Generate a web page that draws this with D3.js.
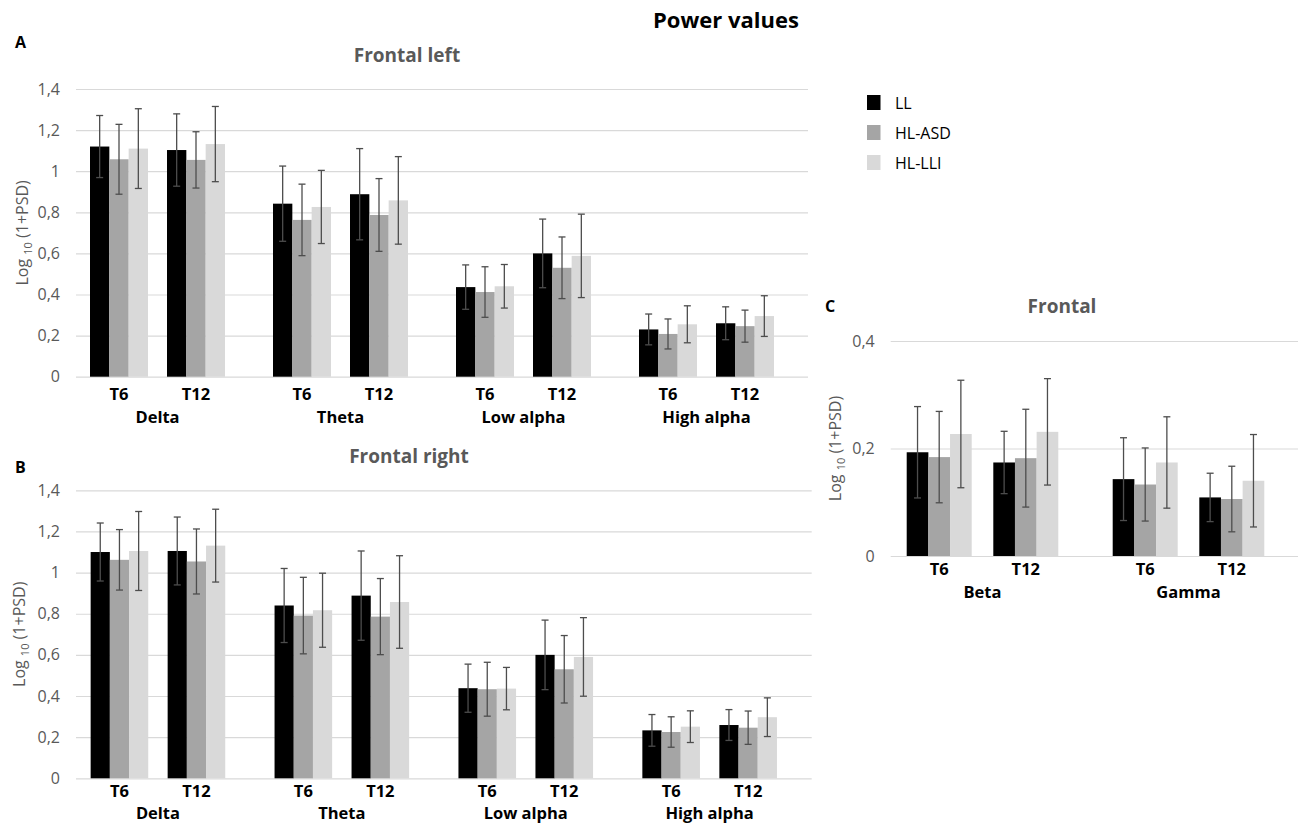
<!DOCTYPE html>
<html>
<head>
<meta charset="utf-8">
<script src="https://cdn.jsdelivr.net/npm/d3@7"></script>
<style>
  body { margin: 0; background: #fff; }
  svg { display: block; font-family: "Open Sans", sans-serif; }
</style>
</head>
<body>
<svg id="chart" width="1298" height="824"></svg>
<script>
// groups, time points, frequency bands
var groups = ['LL', 'HL-ASD', 'HL-LLI'];
var groupColors = ['#000000', '#a5a5a5', '#d9d9d9'];
var timepoints = ['T6', 'T12'];
var bandsLR = ['Delta', 'Theta', 'Low alpha', 'High alpha'];
var bandsC = ['Beta', 'Gamma'];
var yTicksLR = [0, 0.2, 0.4, 0.6, 0.8, 1, 1.2, 1.4];
var yTicksC = [0, 0.2, 0.4];

// rows: band x timepoint (T6, T12), cols: LL, HL-ASD, HL-LLI
var leftMean = [
    [1.12, 1.058, 1.11], [1.103, 1.055, 1.132],
    [0.842, 0.763, 0.826], [0.888, 0.787, 0.858],
    [0.436, 0.412, 0.44], [0.6, 0.53, 0.588],
    [0.23, 0.208, 0.255], [0.26, 0.246, 0.295]
];
var leftErr = [
    [0.151, 0.17, 0.194], [0.176, 0.137, 0.183],
    [0.183, 0.174, 0.178], [0.222, 0.177, 0.213],
    [0.108, 0.123, 0.106], [0.167, 0.15, 0.203],
    [0.075, 0.073, 0.09], [0.08, 0.078, 0.099]
];
var rightMean = [
    [1.1, 1.062, 1.105], [1.105, 1.054, 1.131],
    [0.84, 0.791, 0.817], [0.888, 0.786, 0.857],
    [0.438, 0.433, 0.436], [0.6, 0.53, 0.59],
    [0.233, 0.225, 0.251], [0.259, 0.246, 0.297]
];
var rightErr = [
    [0.141, 0.147, 0.192], [0.165, 0.158, 0.177],
    [0.18, 0.186, 0.18], [0.217, 0.185, 0.225],
    [0.117, 0.131, 0.103], [0.169, 0.164, 0.191],
    [0.077, 0.074, 0.077], [0.075, 0.081, 0.094]
];
var frontalMean = [
    [0.193, 0.184, 0.227], [0.174, 0.182, 0.231],
    [0.143, 0.133, 0.174], [0.109, 0.106, 0.14]
];
var frontalErr = [
    [0.085, 0.085, 0.1], [0.058, 0.091, 0.099],
    [0.077, 0.068, 0.085], [0.045, 0.061, 0.086]
];

var svg = d3.select('#chart');
var comma = d3.formatLocale({decimal: ',', thousands: '.', grouping: [3], currency: ['', '']}).format('.1~f');

function makeRows(bands, mean, err) {
    var rows = [];
    bands.forEach(function(b, bi) {
        timepoints.forEach(function(t, ti) {
            groups.forEach(function(g, gi) {
                var r = bi * timepoints.length + ti;
                rows.push({band: b, time: t, group: g, gi: gi, mean: mean[r][gi], err: err[r][gi]});
            });
        });
    });
    return rows;
}

function drawPanel(p) {
    var y = d3.scaleLinear().domain([0, p.yMax]).range([p.yBottom, p.yTop]);
    var xBand = d3.scaleBand().domain(p.bands).range(p.bandRange);
    var xTime = d3.scalePoint().domain(timepoints).range([-p.timeHalf, p.timeHalf]);
    var xGroup = d3.scaleBand().domain(groups).range([-p.barHalf, p.barHalf]);
    var cx = function(d) { return xBand(d.band) + xBand.bandwidth() / 2 + xTime(d.time); };

    var ga = svg.append('g')
        .attr('transform', 'translate(' + p.gridX0 + ',0)')
        .call(d3.axisLeft(y).tickValues(p.yTicks).tickFormat(comma)
            .tickSize(-(p.gridX1 - p.gridX0)).tickPadding(16));
    ga.select('.domain').remove();
    ga.selectAll('.tick line').attr('stroke', '#d9d9d9').attr('stroke-width', 1.2);
    ga.selectAll('.tick text').attr('fill', '#595959')
        .style('font-family', '"Open Sans", sans-serif').style('font-size', '16px');

    var rows = makeRows(p.bands, p.mean, p.err);
    var g = svg.append('g');

    g.selectAll('rect.bar')
        .data(rows)
        .enter().append('rect')
        .attr('class', 'bar')
        .attr('x', function(d) { return cx(d) + xGroup(d.group); })
        .attr('width', xGroup.bandwidth())
        .attr('y', function(d) { return y(d.mean); })
        .attr('height', function(d) { return y(0) - y(d.mean); })
        .attr('fill', function(d) { return groupColors[d.gi]; });

    var eb = g.selectAll('g.err')
        .data(rows)
        .enter().append('g')
        .attr('class', 'err')
        .attr('stroke', '#4d4d4d')
        .attr('stroke-width', 1.3);
    var mid = function(d) { return cx(d) + xGroup(d.group) + xGroup.bandwidth() / 2; };
    eb.append('line')
        .attr('x1', mid).attr('x2', mid)
        .attr('y1', function(d) { return y(d.mean + d.err); })
        .attr('y2', function(d) { return y(d.mean - d.err); });
    [1, -1].forEach(function(s) {
        eb.append('line')
            .attr('x1', function(d) { return mid(d) - 3.5; })
            .attr('x2', function(d) { return mid(d) + 3.5; })
            .attr('y1', function(d) { return y(d.mean + s * d.err); })
            .attr('y2', function(d) { return y(d.mean + s * d.err); });
    });

    // time point labels + band labels
    var timeRows = [];
    p.bands.forEach(function(b) {
        timepoints.forEach(function(t) { timeRows.push({band: b, time: t}); });
    });
    svg.append('g').selectAll('text')
        .data(timeRows)
        .enter().append('text')
        .attr('x', cx)
        .attr('y', p.timeY)
        .attr('text-anchor', 'middle')
        .style('font-weight', 'bold').style('font-size', '16.5px')
        .text(function(d) { return d.time; });
    svg.append('g').selectAll('text')
        .data(p.bands)
        .enter().append('text')
        .attr('x', function(d) { return xBand(d) + xBand.bandwidth() / 2; })
        .attr('y', p.bandY)
        .attr('text-anchor', 'middle')
        .style('font-weight', 'bold').style('font-size', '16.5px')
        .text(function(d) { return d; });

    // title and panel letter
    svg.append('text')
        .attr('x', p.titleX).attr('y', p.titleY)
        .attr('text-anchor', 'middle')
        .attr('fill', '#595959')
        .style('font-weight', 'bold').style('font-size', '19px')
        .text(p.title);
    svg.append('text')
        .attr('x', p.letterX).attr('y', p.letterY)
        .style('font-weight', 'bold').style('font-size', '16px')
        .text(p.letter);

    // y axis title
    var t = svg.append('text')
        .attr('transform', 'translate(' + p.ytitleX + ',' + (p.yTop + p.yBottom) / 2 + ') rotate(-90)')
        .attr('text-anchor', 'middle')
        .attr('fill', '#595959')
        .style('font-size', '16px');
    t.append('tspan').text('Log ');
    t.append('tspan').attr('dy', 4).style('font-size', '11px').text('10');
    t.append('tspan').attr('dy', -4).text(' (1+PSD)');
}

drawPanel({
    bands: bandsLR, mean: leftMean, err: leftErr, yMax: 1.4, yTicks: yTicksLR,
    yBottom: 376.7, yTop: 89, gridX0: 76, gridX1: 808, bandRange: [66, 798],
    timeHalf: 38.5, barHalf: 29, timeY: 400, bandY: 423,
    title: 'Frontal left', titleX: 407, titleY: 62, letter: 'A', letterX: 15, letterY: 48, ytitleX: 28
});
drawPanel({
    bands: bandsLR, mean: rightMean, err: rightErr, yMax: 1.4, yTicks: yTicksLR,
    yBottom: 778.3, yTop: 490.3, gridX0: 76, gridX1: 811.7, bandRange: [66, 801.6],
    timeHalf: 38.5, barHalf: 28.8, timeY: 797, bandY: 819,
    title: 'Frontal right', titleX: 409, titleY: 463, letter: 'B', letterX: 15, letterY: 473, ytitleX: 25
});
drawPanel({
    bands: bandsC, mean: frontalMean, err: frontalErr, yMax: 0.4, yTicks: yTicksC,
    yBottom: 556, yTop: 341, gridX0: 890.7, gridX1: 1298, bandRange: [879.5, 1291.5],
    timeHalf: 43.3, barHalf: 32.5, timeY: 575, bandY: 598,
    title: 'Frontal', titleX: 1062, titleY: 313, letter: 'C', letterX: 825, letterY: 312, ytitleX: 841
});

// main title
svg.append('text')
    .attr('x', 726).attr('y', 28)
    .attr('text-anchor', 'middle')
    .style('font-weight', 'bold').style('font-size', '22px')
    .text('Power values');

// legend
var legend = svg.append('g').selectAll('g')
    .data(groups)
    .enter().append('g')
    .attr('transform', function(d, i) { return 'translate(867,' + (95 + i * 30) + ')'; });
legend.append('rect')
    .attr('width', 13.5).attr('height', 15)
    .attr('fill', function(d, i) { return groupColors[i]; });
legend.append('text')
    .attr('x', 28).attr('y', 13.5)
    .style('font-size', '16px')
    .text(function(d) { return d; });
</script>
</body>
</html>
